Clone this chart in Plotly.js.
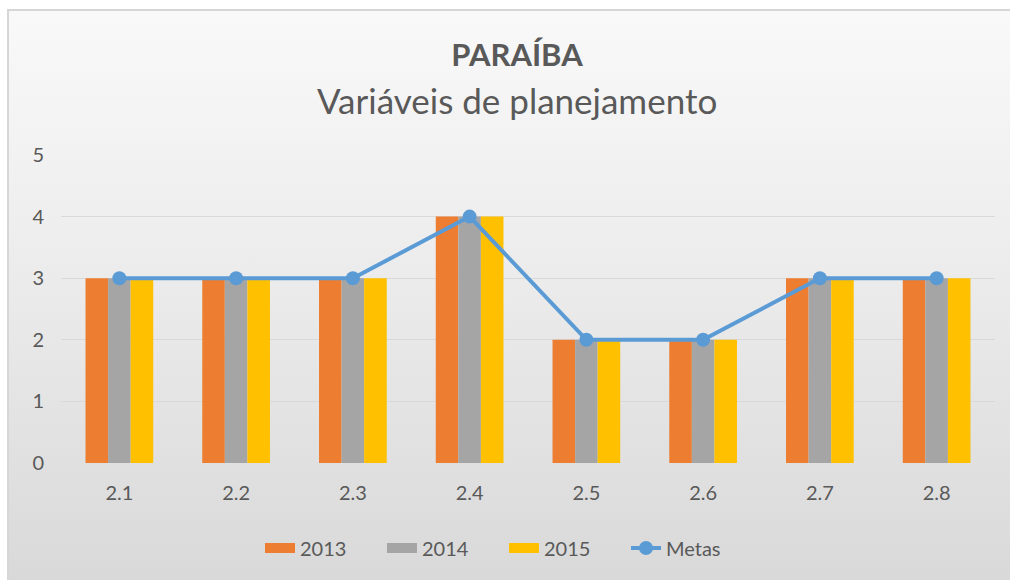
<!DOCTYPE html>
<html><head><meta charset="utf-8">
<script src="https://cdn.plot.ly/plotly-3.0.1.min.js"></script>
<style>
html,body{margin:0;padding:0;background:#ffffff;width:1010px;height:580px;overflow:hidden;}
#wrap{position:absolute;left:7px;top:9px;width:1003px;height:571px;border-left:2px solid #d6d6d6;border-top:2px solid #d6d6d6;box-sizing:border-box;background:linear-gradient(to bottom,#f9f9f9 0%,#ececec 45%,#d9d9d9 100%);}
#chart{position:absolute;left:-2px;top:-2px;width:1003px;height:571px;}
</style></head>
<body><div id="wrap"><div id="chart"></div></div>
<script>
const categories = ["2.1","2.2","2.3","2.4","2.5","2.6","2.7","2.8"];
const v2013 = [3,3,3,4,2,2,3,3];
const v2014 = [3,3,3,4,2,2,3,3];
const v2015 = [3,3,3,4,2,2,3,3];
const metas = [3,3,3,4,2,2,3,3];
const yTicks = [0,1,2,3,4,5];
const seriesNames = ["2013","2014","2015"];
const seriesColors = ["#ED7D31","#A5A5A5","#FFC000"];
const seriesValues = [v2013, v2014, v2015];

const fontFam = 'Lato, "Open Sans", "Liberation Sans", sans-serif';
const traces = [];
seriesNames.forEach((n,i)=>{
  traces.push({type:'bar', name:n, x:categories, y:seriesValues[i], marker:{color:seriesColors[i]}, showlegend:false, legendgroup:n});
});
seriesNames.forEach((n,i)=>{
  traces.push({type:'scatter', mode:'lines', name:n, x:[null], y:[null], line:{color:seriesColors[i], width:13}, legendgroup:n, showlegend:true});
});
traces.push({type:'scatter', mode:'lines+markers', name:'Metas', x:categories, y:metas,
   line:{color:'#5B9BD5', width:4}, marker:{color:'#5B9BD5', size:14}});

const layout = {
  width:1003, height:571,
  paper_bgcolor:'rgba(0,0,0,0)', plot_bgcolor:'rgba(0,0,0,0)',
  margin:{l:54, r:15, t:146, b:117},
  barmode:'group', bargap:0.42, bargroupgap:0,
  font:{family:fontFam, color:'#595959', size:20},
  title:{text:'<b>PARAÍBA</b>', x:(517-7)/1003, xanchor:'center', y:1-46/571, yanchor:'middle', yref:'container',
         font:{family:fontFam, size:31, color:'#595959'}},
  annotations:[{text:'Variáveis de planejamento', xref:'paper', yref:'paper', x:(517-61)/934, xanchor:'center',
    y:1+(146-91)/(571-146-117), yanchor:'middle', showarrow:false, font:{family:fontFam, size:35, color:'#595959'}}],
  xaxis:{type:'category', showgrid:false, zeroline:false, showline:false, ticks:'', ticklen:0,
         tickfont:{size:20, color:'#595959'}, ticklabelstandoff:16},
  yaxis:{range:[0,5], tickvals:yTicks, ticktext:yTicks.map(String), showgrid:true, gridcolor:'#d9d9d9', gridwidth:1,
         zeroline:false, showline:false, ticks:'', tickfont:{size:20, color:'#595959'}, ticklabelstandoff:16},
  legend:{orientation:'h', x:(504-61)/934, xanchor:'center', y:-(539-454)/308, yanchor:'middle', font:{size:20, color:'#595959'},
          bgcolor:'rgba(0,0,0,0)', tracegroupgap:0, traceorder:'normal', entrywidth:77, entrywidthmode:'pixels'},
  showlegend:true
};
Plotly.newPlot('chart', traces, layout, {displayModeBar:false, staticPlot:true});
</script></body></html>
